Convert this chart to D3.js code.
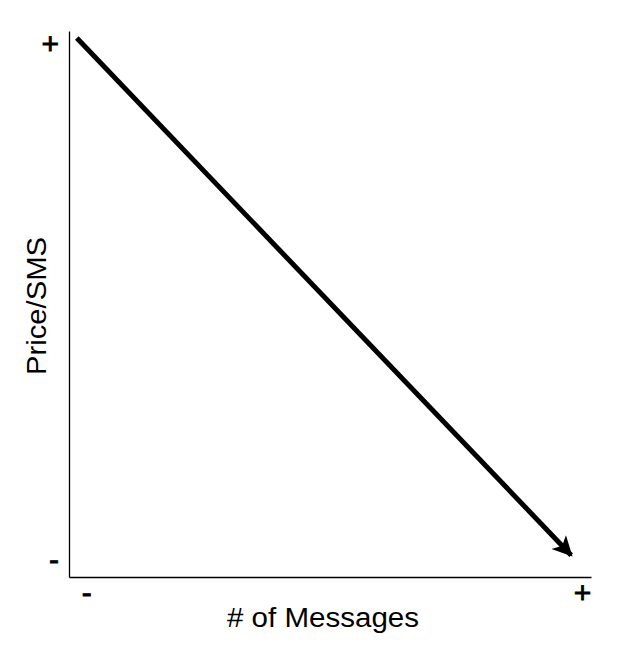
<!DOCTYPE html>
<html>
<head>
<meta charset="utf-8">
<script src="https://cdn.jsdelivr.net/npm/d3@7"></script>
<style>
  body { margin: 0; background: #fff; }
  svg { font-family: "Liberation Sans", Arial, sans-serif; }
</style>
</head>
<body>
<svg id="chart"></svg>
<script>
const xTicks = [0.033, 0.983];
const xTickLabels = ["-", "+"];
const yTicks = [0.031, 0.976];
const yTickLabels = ["-", "+"];
const arrowX = [0.015, 0.962];
const arrowY = [0.987, 0.04];
const xTitle = "# of Messages";
const yTitle = "Price/SMS";

const width = 639, height = 650;
const margin = { top: 31, right: 48, bottom: 73, left: 69 };

const svg = d3.select("#chart").attr("width", width).attr("height", height);

const x = d3.scaleLinear().domain([0, 1]).range([margin.left, width - margin.right]);
const y = d3.scaleLinear().domain([0, 1]).range([height - margin.bottom, margin.top]);

// axes
svg.append("g")
  .attr("transform", `translate(0, ${y(0)})`)
  .call(d3.axisBottom(x).tickValues(xTicks).tickSize(0).tickSizeOuter(0)
    .tickPadding(5).tickFormat((d, i) => xTickLabels[i]))
  .attr("font-size", 30)
  .attr("font-family", "Liberation Sans, Arial, sans-serif");

svg.append("g")
  .attr("transform", `translate(${x(0)}, 0)`)
  .call(d3.axisLeft(y).tickValues(yTicks).tickSize(0).tickSizeOuter(0)
    .tickPadding(10).tickFormat((d, i) => yTickLabels[i]))
  .attr("font-size", 30)
  .attr("font-family", "Liberation Sans, Arial, sans-serif");

svg.selectAll(".domain").attr("stroke", "#000").attr("stroke-width", 1.3);
svg.selectAll(".tick text")
  .attr("fill", "#000")
  .attr("stroke", "#000")
  .attr("stroke-width", 0.8);

// arrow
svg.append("defs").append("marker")
  .attr("id", "head")
  .attr("viewBox", "0 0 10 10")
  .attr("refX", 9).attr("refY", 5)
  .attr("markerUnits", "userSpaceOnUse")
  .attr("markerWidth", 22).attr("markerHeight", 20)
  .attr("orient", "auto")
  .append("path")
  .attr("d", "M0,0 L10,5 L0,10 L2.5,5 Z")
  .attr("fill", "#000");

const line = d3.line().x(d => x(d[0])).y(d => y(d[1]));
svg.append("path")
  .datum(d3.zip(arrowX, arrowY))
  .attr("d", line)
  .attr("fill", "none")
  .attr("stroke", "#000")
  .attr("stroke-width", 5)
  .attr("marker-end", "url(#head)");

// titles
svg.append("text")
  .attr("x", 323)
  .attr("y", 627)
  .attr("text-anchor", "middle")
  .attr("font-size", 27)
  .attr("textLength", 192)
  .attr("lengthAdjust", "spacingAndGlyphs")
  .text(xTitle);

svg.append("text")
  .attr("transform", `translate(46, 306) rotate(-90)`)
  .attr("text-anchor", "middle")
  .attr("font-size", 28)
  .attr("textLength", 138)
  .attr("lengthAdjust", "spacingAndGlyphs")
  .text(yTitle);
</script>
</body>
</html>
